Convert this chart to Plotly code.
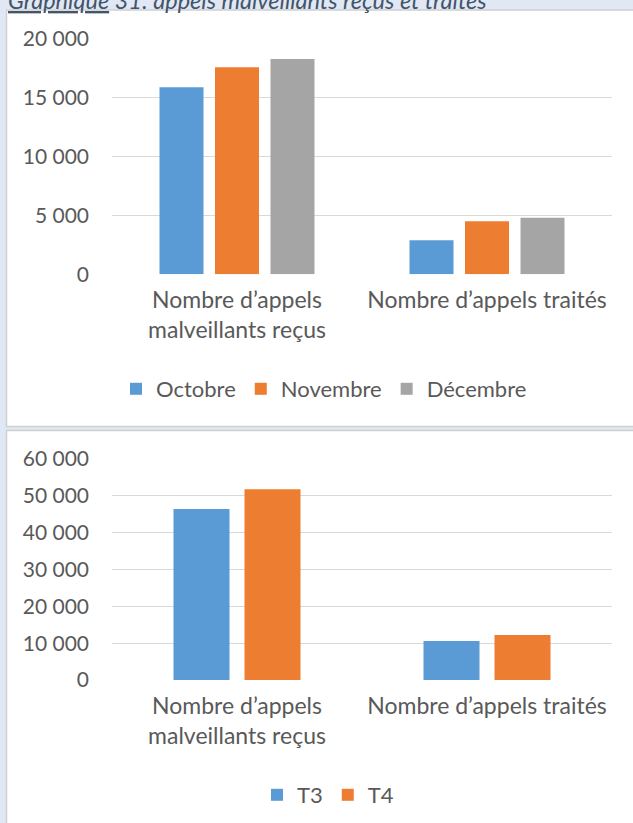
import plotly.graph_objects as go

# Catégories et séries
categories = ["Nombre d’appels<br>malveillants reçus", "Nombre d’appels traités"]

mois = ["Octobre", "Novembre", "Décembre"]
valeurs_mois = {
    "Octobre": [15900, 2900],
    "Novembre": [17600, 4500],
    "Décembre": [18300, 4800],
}

trimestres = ["T3", "T4"]
valeurs_trimestres = {
    "T3": [46400, 10600],
    "T4": [51800, 12200],
}

y_ticks_haut = [0, 5000, 10000, 15000, 20000]
y_ticks_bas = [0, 10000, 20000, 30000, 40000, 50000, 60000]

titre = "<i><u>Graphique</u> 31: appels malveillants reçus et traités</i>"

couleurs = {"Octobre": "#5B9BD5", "Novembre": "#ED7D31", "Décembre": "#A5A5A5",
            "T3": "#5B9BD5", "T4": "#ED7D31"}

W, H = 633, 823
FONT = "Lato"
TXT = "#595959"


def px(x):
    return x / W


def py(y):
    return 1 - y / H


fig = go.Figure()

# Barres mensuelles (graphique du haut)
w1, s1 = 0.176, 0.222
for i, m in enumerate(mois):
    fig.add_trace(go.Bar(
        x=categories, y=valeurs_mois[m], name=m,
        marker=dict(color=couleurs[m], line=dict(width=0)),
        width=w1, offset=(i - 1) * s1 - w1 / 2,
        xaxis="x", yaxis="y", legend="legend",
        hoverinfo="skip",
    ))

# Barres trimestrielles (graphique du bas)
w2, s2 = 0.224, 0.284
for i, t in enumerate(trimestres):
    fig.add_trace(go.Bar(
        x=categories, y=valeurs_trimestres[t], name=t,
        marker=dict(color=couleurs[t], line=dict(width=0)),
        width=w2, offset=(i - 0.5) * s2 - w2 / 2,
        xaxis="x2", yaxis="y2", legend="legend2",
        hoverinfo="skip",
    ))

xdom = [px(112), px(612)]
axis_x = dict(showgrid=False, zeroline=False, showline=False, ticks="",
              tickfont=dict(family=FONT, size=23, color=TXT),
              ticklabelstandoff=10, range=[-0.5, 1.5], fixedrange=True)
axis_y = dict(showgrid=True, gridcolor="#D9D9D9", gridwidth=1.3, zeroline=False,
              showline=False, ticks="", tickformat=",d",
              tickfont=dict(family=FONT, size=21, color=TXT),
              ticklabelstandoff=22, fixedrange=True)

legend_style = dict(orientation="h", xanchor="center", yanchor="middle",
                    font=dict(family=FONT, size=22, color=TXT),
                    bgcolor="rgba(0,0,0,0)", itemclick=False,
                    itemdoubleclick=False, traceorder="normal")

fig.update_layout(
    width=W, height=H,
    margin=dict(l=0, r=0, t=0, b=0, autoexpand=False),
    paper_bgcolor="#DFE8F4",
    plot_bgcolor="rgba(0,0,0,0)",
    separators=", ",
    barmode="group",
    font=dict(family=FONT, color=TXT),
    title=dict(text=titre, xref="paper", yref="container",
               x=px(8), xanchor="left", y=1 - 9 / H, yanchor="bottom",
               automargin=False,
               font=dict(family=FONT, size=23.5, color="#44546A")),
    xaxis=dict(axis_x, domain=xdom, anchor="y"),
    yaxis=dict(axis_y, domain=[py(274.3), py(39)], range=[0, 20000],
               tickvals=y_ticks_haut, anchor="x"),
    xaxis2=dict(axis_x, domain=xdom, anchor="y2"),
    yaxis2=dict(axis_y, domain=[py(680), py(459)], range=[0, 60000],
                tickvals=y_ticks_bas, anchor="x2"),
    legend=dict(legend_style, x=px(324), y=py(389)),
    legend2=dict(legend_style, x=px(328), y=py(795)),
    shapes=[
        # cadre du graphique du haut
        dict(type="rect", xref="paper", yref="paper", layer="below",
             x0=px(6.5), x1=px(W + 5), y0=py(426.5), y1=py(10),
             fillcolor="white", line=dict(color="#D0D0D0", width=1.5)),
        # cadre du graphique du bas
        dict(type="rect", xref="paper", yref="paper", layer="below",
             x0=px(6.5), x1=px(W + 5), y0=py(H + 5), y1=py(430.5),
             fillcolor="white", line=dict(color="#D0D0D0", width=1.5)),
    ],
)

fig.write_html("out.html")
